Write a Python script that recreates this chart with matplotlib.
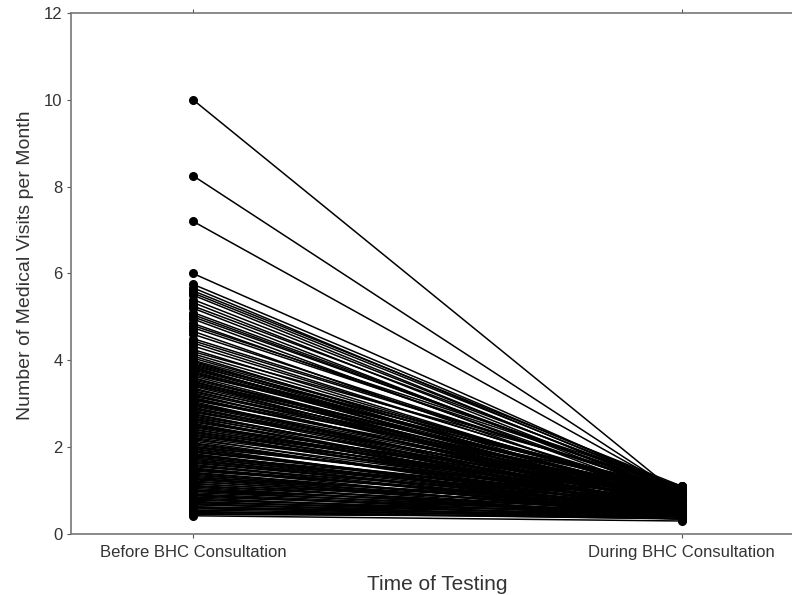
import matplotlib
matplotlib.use('Agg')
import matplotlib.pyplot as plt

## Medical visits per month, one pair per patient
before = [10.0, 8.25, 7.2, 6.0, 5.75, 5.67, 5.6, 5.5, 5.4, 5.33, 5.25, 5.2, 5.1,
          5.0, 4.95, 4.85, 4.75, 4.67, 4.6, 4.5, 4.4, 4.33, 4.25, 4.2, 4.1, 4.0,
          3.95, 3.9, 3.87, 3.83, 3.8, 3.75, 3.7, 3.67, 3.6, 3.55, 3.5, 3.5,
          3.45, 3.4, 3.33, 3.3, 3.25, 3.2, 3.17, 3.1, 3.05, 3.0, 3.0, 2.95,
          2.9, 2.85, 2.8, 2.75, 2.7, 2.67, 2.63, 2.6, 2.55, 2.5, 2.5, 2.45,
          2.4, 2.33, 2.3, 2.25, 2.2, 2.17, 2.1, 2.05, 2.0, 2.0,
          1.95, 1.9, 1.85, 1.8, 1.75, 1.75, 1.7, 1.67, 1.63, 1.6, 1.55, 1.5,
          1.5, 1.45, 1.4, 1.35, 1.33, 1.3, 1.25, 1.2, 1.17, 1.15, 1.1, 1.05,
          1.0, 1.0,
          0.95, 0.92, 0.9, 0.85, 0.83, 0.8, 0.75, 0.72, 0.7, 0.67, 0.63, 0.6,
          0.58, 0.55, 0.5, 0.5, 0.45, 0.42,
          # second batch
          3.98, 3.92, 3.85, 3.78, 3.72, 3.64, 3.58, 3.52, 3.47, 3.42,
          3.36, 3.28, 3.22, 3.14, 3.08, 3.02, 2.97, 2.92, 2.88, 2.82,
          2.77, 2.72, 2.65, 2.58, 2.52, 2.47, 2.42, 2.37, 2.28, 2.22,
          2.14, 2.08, 2.02, 1.97, 1.92, 1.88, 1.82, 1.78, 1.72, 1.65,
          1.58, 1.52, 1.47, 1.42, 1.38, 1.28, 1.22, 1.12, 1.08, 1.02,
          0.98, 0.88, 0.78, 0.68, 0.62, 0.52, 0.47, 4.45, 4.15, 4.05,
          4.8, 5.05, 5.55, 3.12, 2.35, 1.83, 1.27, 0.73]
during = [0.85, 0.9, 0.95, 1.0, 1.05, 1.0, 1.1, 0.95, 1.0, 0.9, 1.05, 0.85, 0.95,
          1.0, 0.8, 0.9, 1.05, 0.75, 0.95, 1.0, 0.85, 0.9, 0.8, 1.1, 0.7, 0.95,
          0.9, 0.75, 1.0, 0.8, 0.95, 0.7, 0.85, 1.05, 0.65, 0.9, 0.8, 1.0,
          0.6, 0.75, 0.95, 0.7, 0.85, 0.65, 1.0, 0.8, 0.55, 0.9, 0.7, 0.75,
          0.8, 0.6, 0.9, 0.7, 0.55, 0.85, 0.65, 0.75, 0.5, 0.95, 0.6, 0.7,
          0.8, 0.55, 0.65, 0.9, 0.5, 0.7, 0.6, 0.75, 0.45, 0.85,
          0.6, 0.7, 0.5, 0.8, 0.55, 0.65, 0.45, 0.75, 0.6, 0.5, 0.7, 0.4,
          0.55, 0.65, 0.5, 0.6, 0.45, 0.7, 0.5, 0.55, 0.4, 0.6, 0.5, 0.45,
          0.55, 0.4,
          0.5, 0.45, 0.4, 0.5, 0.35, 0.45, 0.4, 0.5, 0.35, 0.45, 0.4, 0.35,
          0.45, 0.4, 0.35, 0.45, 0.4, 0.3,
          # second batch
          0.7, 0.95, 0.6, 0.85, 1.0, 0.75, 0.9, 0.65, 0.8, 1.05,
          0.7, 0.9, 0.6, 0.75, 0.95, 0.65, 0.85, 0.55, 0.7, 0.9,
          0.6, 0.8, 0.5, 0.75, 0.65, 0.85, 0.55, 0.7, 0.6, 0.8,
          0.5, 0.65, 0.75, 0.45, 0.6, 0.7, 0.55, 0.65, 0.5, 0.6,
          0.45, 0.55, 0.65, 0.5, 0.4, 0.6, 0.45, 0.5, 0.4, 0.55,
          0.45, 0.4, 0.45, 0.35, 0.4, 0.35, 0.4, 1.0, 0.85, 0.9,
          1.1, 0.95, 1.05, 0.8, 0.7, 0.6, 0.5, 0.4]

times = ['Before BHC Consultation', 'During BHC Consultation']
yticks = [0, 2, 4, 6, 8, 10, 12]

grey = '#555555'
plt.rcParams['font.family'] = ['Liberation Sans', 'DejaVu Sans']

fig = plt.figure(figsize=(7.92, 5.95), dpi=100)
## axes run off the right edge of the picture, like the scanned original
ax = fig.add_axes([0.0896, 0.1025, 0.9254, 0.8757])

for b, d in zip(before, during):
    ax.plot([1, 2], [b, d], color='black', lw=1.1, marker='o', ms=5.5,
            mfc='black', mec='black', solid_capstyle='round')

ax.set_xlim(0.75, 2.25)
ax.set_ylim(0, 12)
ax.set_xticks([1, 2])
ax.set_xticklabels(times, fontsize=12, color='#333333')
ax.set_yticks(yticks)
ax.set_yticklabels([str(t) for t in yticks], fontsize=12, color='#333333')
ax.tick_params(axis='both', length=3, width=0.8, color=grey)
ax.tick_params(axis='y', pad=3)
ax.tick_params(axis='x', top=True, pad=5)

for side in ['left', 'top', 'bottom']:
    ax.spines[side].set_color('#777777')
    ax.spines[side].set_linewidth(1.2)
ax.spines['right'].set_visible(False)

ax.set_xlabel('Time of Testing', fontsize=15, color='#333333')
ax.xaxis.label.set_va('baseline')
ax.xaxis.set_label_coords(0.5, -0.1075)
ax.set_ylabel('Number of Medical Visits per Month', fontsize=14,
              color='#333333')
ax.yaxis.set_label_coords(-0.05, 0.516)

fig.savefig('out.png', dpi=100)
